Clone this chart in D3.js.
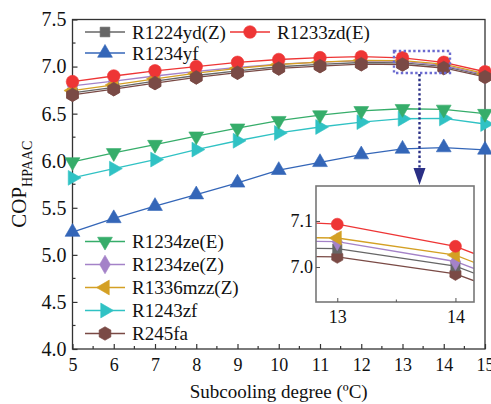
<!DOCTYPE html>
<html><head><meta charset="utf-8">
<script src="https://cdn.jsdelivr.net/npm/d3@7/dist/d3.min.js"></script>
<style>body{margin:0;background:#fff}svg{display:block}</style>
</head><body><svg id="c" width="491" height="404"></svg>
<script>
const subcooling = [5,6,7,8,9,10,11,12,13,14,15];
const names = ["R1224yd(Z)","R1233zd(E)","R1234yf","R1234ze(E)","R1234ze(Z)","R1336mzz(Z)","R1243zf","R245fa"];
const R1224ydZ  = [6.72,6.78,6.845,6.905,6.955,6.998,7.023,7.043,7.040,7.002,6.905];
const R1233zdE  = [6.84,6.90,6.955,7.000,7.045,7.075,7.095,7.105,7.093,7.045,6.945];
const R1234yf   = [5.242,5.387,5.517,5.640,5.765,5.899,5.983,6.065,6.125,6.140,6.115];
const R1234zeE  = [5.987,6.083,6.171,6.260,6.345,6.425,6.485,6.530,6.552,6.545,6.500];
const R1234zeZ  = [6.795,6.845,6.900,6.950,6.990,7.025,7.047,7.060,7.055,7.012,6.915];
const R1336mzzZ = [6.745,6.805,6.870,6.930,6.980,7.022,7.048,7.066,7.063,7.026,6.925];
const R1243zf   = [5.818,5.916,6.012,6.118,6.212,6.295,6.358,6.410,6.446,6.449,6.390];
const R245fa    = [6.700,6.760,6.825,6.885,6.935,6.980,7.005,7.025,7.022,6.985,6.890];
const seriesValues = [R1224ydZ,R1233zdE,R1234yf,R1234zeE,R1234zeZ,R1336mzzZ,R1243zf,R245fa];
const colors = ["#666666","#ee3535","#3466b8","#36ad6a","#a482c8","#d4a024","#30c2c4","#7a4a45"];
const shapes = ["square","circle","triUp","triDown","diamond","triLeft","triRight","hexagon"];
const xTicks = [5,6,7,8,9,10,11,12,13,14,15];
const yTicks = [4.0,4.5,5.0,5.5,6.0,6.5,7.0,7.5];
const insetXTicks = [13,14];
const insetYTicks = [7.0,7.1];

const FONT = "'Liberation Serif', Tinos, 'Times New Roman', 'DejaVu Serif', serif";
const svg = d3.select("#c").style("font-family",FONT);
const M = {l:72.5, r:485, t:19.5, b:349};
const x = d3.scaleLinear().domain([5,15]).range([M.l,M.r]);
const y = d3.scaleLinear().domain([4,7.5]).range([M.b,M.t]);

const hexType = {draw(ctx,size){const r=Math.sqrt(size/2.598);for(let i=0;i<6;i++){const a=Math.PI/6+i*Math.PI/3;const px=r*Math.cos(a),py=r*Math.sin(a);i?ctx.lineTo(px,py):ctx.moveTo(px,py);}ctx.closePath();}};
function marker(g, shape, color, cx, cy, s){
  s = s||1;
  let type, size, rot=0;
  switch(shape){
    case "square": type=d3.symbolSquare; size=95; break;
    case "circle": type=d3.symbolCircle; size=125; break;
    case "triUp": type=d3.symbolTriangle; size=95; break;
    case "triDown": type=d3.symbolTriangle; size=95; rot=180; break;
    case "triLeft": type=d3.symbolTriangle; size=95; rot=-90; break;
    case "triRight": type=d3.symbolTriangle; size=95; rot=90; break;
    case "diamond": type=d3.symbolDiamond; size=100; break;
    case "hexagon": type=hexType; size=120; break;
  }
  g.append("path").attr("d", d3.symbol().type(type).size(size*s*s)())
    .attr("transform",`translate(${cx},${cy}) rotate(${rot})`)
    .attr("fill",color).attr("stroke",color).attr("stroke-width",0.6);
}
function styleText(sel,size){ sel.attr("font-size",size).attr("font-family",FONT).attr("fill","#111"); }

// frame
svg.append("rect").attr("x",M.l).attr("y",M.t).attr("width",M.r-M.l).attr("height",M.b-M.t)
  .attr("fill","none").attr("stroke","#333").attr("stroke-width",1.3);

const xAxis = d3.axisBottom(x).tickValues(xTicks).tickSize(-5).tickPadding(9).tickFormat(d3.format("d"));
const gx = svg.append("g").attr("transform",`translate(0,${M.b})`).call(xAxis);
gx.attr("font-family",FONT);
gx.select(".domain").remove();
styleText(gx.selectAll("text"),18);
gx.selectAll("line").attr("stroke","#333").attr("stroke-width",1.2);
const xMinor = d3.range(5.5,15,1);
svg.append("g").selectAll("line").data(xMinor).join("line")
  .attr("x1",d=>x(d)).attr("x2",d=>x(d)).attr("y1",M.b).attr("y2",M.b-3).attr("stroke","#333").attr("stroke-width",1.2);

const yAxis = d3.axisLeft(y).tickValues(yTicks).tickSize(-5).tickPadding(6).tickFormat(d3.format(".1f"));
const gy = svg.append("g").attr("transform",`translate(${M.l},0)`).call(yAxis);
gy.attr("font-family",FONT);
gy.select(".domain").remove();
styleText(gy.selectAll("text"),20);
gy.selectAll("line").attr("stroke","#333").attr("stroke-width",1.2);
const yMinor = d3.range(4.25,7.5,0.5);
svg.append("g").selectAll("line").data(yMinor).join("line")
  .attr("y1",d=>y(d)).attr("y2",d=>y(d)).attr("x1",M.l).attr("x2",M.l+3).attr("stroke","#333").attr("stroke-width",1.2);

// axis titles
styleText(svg.append("text").attr("x",x(10)).attr("y",398).attr("text-anchor","middle")
  .text("Subcooling degree  (\u00BAC)"),19);
const yl = svg.append("text").attr("transform",`translate(26,${(M.t+M.b)/2}) rotate(-90)`).attr("text-anchor","middle");
styleText(yl,21);
yl.append("tspan").text("COP");
yl.append("tspan").attr("font-size",14).attr("dy",6).text("HPAAC");

// series
const line = d3.line().x((d,i)=>x(subcooling[i])).y(d=>y(d));
const plot = svg.append("g");
const order = [2,6,3,7,0,4,5,1];
order.forEach(k=>{
  plot.append("path").attr("d",line(seriesValues[k])).attr("fill","none").attr("stroke",colors[k]).attr("stroke-width",1.3);
});
order.forEach(k=>{
  seriesValues[k].forEach((v,i)=>marker(plot,shapes[k],colors[k],x(subcooling[i]),y(v)));
});
seriesValues[7].forEach((v,i)=>marker(plot,shapes[7],colors[7],x(subcooling[i]),y(v)));

// legends
function legendItem(k, lx, ly){
  const g = svg.append("g");
  g.append("line").attr("x1",lx).attr("x2",lx+40).attr("y1",ly).attr("y2",ly).attr("stroke",colors[k]).attr("stroke-width",1.3);
  marker(g,shapes[k],colors[k],lx+20,ly);
  styleText(g.append("text").attr("x",lx+47).attr("y",ly+6.5).text(names[k]),19);
}
legendItem(0,85,32);
legendItem(1,230,32);
legendItem(2,85,53);
[3,4,5,6,7].forEach((k,i)=>legendItem(k,85,241.5+i*23));

// zoom rectangle and arrow
svg.append("rect").attr("x",394).attr("y",51).attr("width",56).attr("height",22)
  .attr("fill","none").attr("stroke","#6b6bd0").attr("stroke-width",2.4).attr("stroke-dasharray","2.4,2.4");
svg.append("line").attr("x1",419.5).attr("x2",419.5).attr("y1",74).attr("y2",170)
  .attr("stroke","#2a2f85").attr("stroke-width",2.4).attr("stroke-dasharray","2.4,2.4");
svg.append("path").attr("d","M413.5,168 L425.5,168 L419.5,185 Z").attr("fill","#2a2f85");

// inset
const I = {l:316, r:474, t:186, b:302};
const xi = d3.scaleLinear().domain([12.82,14.157]).range([I.l,I.r]);
const yi = d3.scaleLinear().domain([6.924,7.176]).range([I.b,I.t]);
svg.append("rect").attr("x",I.l).attr("y",I.t).attr("width",I.r-I.l).attr("height",I.b-I.t).attr("fill","#fff");
svg.append("clipPath").attr("id","ic").append("rect").attr("x",I.l).attr("y",I.t).attr("width",I.r-I.l).attr("height",I.b-I.t);
const ig = svg.append("g").attr("clip-path","url(#ic)");
const iline = d3.line().x((d,i)=>xi(subcooling[i])).y(d=>yi(d));
[7,0,4,5,1].forEach(k=>{
  ig.append("path").attr("d",iline(seriesValues[k])).attr("fill","none").attr("stroke",colors[k]).attr("stroke-width",1.3);
});
[7,0,4,5,1].forEach(k=>{
  seriesValues[k].forEach((v,i)=>{ if(subcooling[i]>=13&&subcooling[i]<=14) marker(ig,shapes[k],colors[k],xi(subcooling[i]),yi(v),0.95);});
});
svg.append("rect").attr("x",I.l).attr("y",I.t).attr("width",I.r-I.l).attr("height",I.b-I.t)
  .attr("fill","none").attr("stroke","#777").attr("stroke-width",1.6);
const ixa = svg.append("g").attr("transform",`translate(0,${I.b})`).call(d3.axisBottom(xi).tickValues(insetXTicks).tickSize(-4).tickPadding(8).tickFormat(d3.format("d")));
ixa.attr("font-family",FONT);
ixa.select(".domain").remove();
styleText(ixa.selectAll("text"),18);
ixa.selectAll("line").attr("stroke","#555");
svg.append("line").attr("x1",xi(13.5)).attr("x2",xi(13.5)).attr("y1",I.b).attr("y2",I.b-2.5).attr("stroke","#555");
const iya = svg.append("g").attr("transform",`translate(${I.l},0)`).call(d3.axisLeft(yi).tickValues(insetYTicks).tickSize(-4).tickPadding(3).tickFormat(d3.format(".1f")));
iya.attr("font-family",FONT);
iya.select(".domain").remove();
styleText(iya.selectAll("text"),18);
iya.selectAll("line").attr("stroke","#555");
</script></body></html>
